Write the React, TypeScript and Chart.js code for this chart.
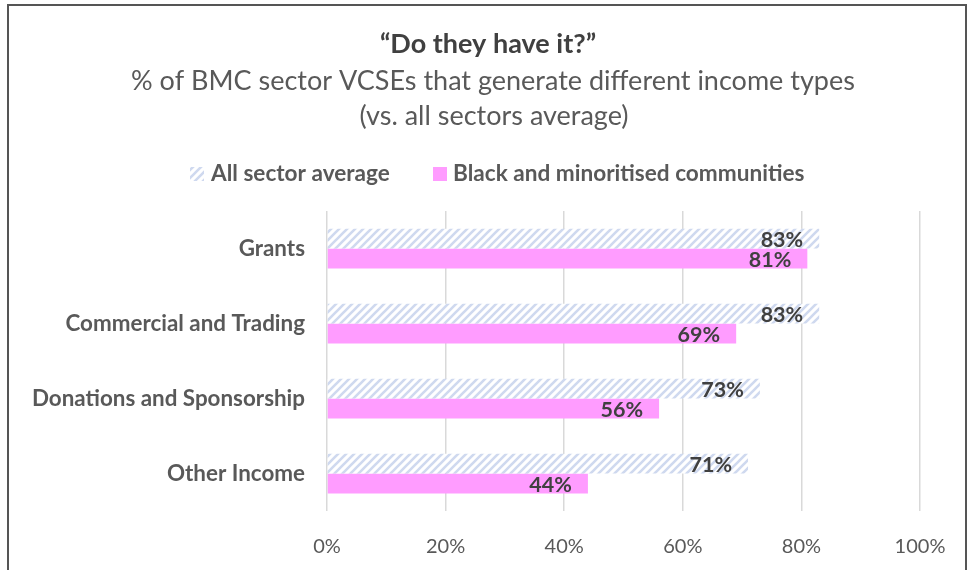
import React, { useEffect, useRef } from "react";
import { Chart, registerables } from "chart.js";
Chart.register(...registerables);

const categories = ["Grants", "Commercial and Trading", "Donations and Sponsorship", "Other Income"];
const allSectorAverage = [83, 83, 73, 71];
const bmcCommunities = [81, 69, 56, 44];
const xTicks = [0, 20, 40, 60, 80, 100];
const seriesNames = ["All sector average", "Black and minoritised communities"];
const titleText = "\u201CDo they have it?\u201D";
const subtitleLines = ["% of BMC sector VCSEs that generate different income types", "(vs. all sectors average)"];

const FONT = "Lato, 'Open Sans', sans-serif";
const PINK = "#ff9cff";
const STRIPE = "#cfd9ef";

function makeHatch(): CanvasPattern | string {
  const s = 8;
  const c = document.createElement("canvas");
  c.width = s;
  c.height = s;
  const ctx = c.getContext("2d");
  if (!ctx) return STRIPE;
  ctx.fillStyle = "#ffffff";
  ctx.fillRect(0, 0, s, s);
  ctx.strokeStyle = STRIPE;
  ctx.lineWidth = 2.6;
  ctx.beginPath();
  ctx.moveTo(0, s);
  ctx.lineTo(s, 0);
  ctx.moveTo(-s / 2, s / 2);
  ctx.lineTo(s / 2, -s / 2);
  ctx.moveTo(s / 2, s * 1.5);
  ctx.lineTo(s * 1.5, s / 2);
  ctx.stroke();
  const p = ctx.createPattern(c, "repeat");
  return p || STRIPE;
}

export default function App() {
  const ref = useRef<HTMLCanvasElement | null>(null);

  useEffect(() => {
    const canvas = ref.current;
    if (!canvas) return;
    const hatch = makeHatch();

    const headerPlugin = {
      id: "header",
      afterDraw(chart: any) {
        const ctx = chart.ctx as CanvasRenderingContext2D;
        ctx.save();
        ctx.textBaseline = "middle";
        ctx.textAlign = "center";
        ctx.fillStyle = "#404040";
        ctx.font = `bold 27px ${FONT}`;
        ctx.fillText(titleText, 488, 44);
        ctx.fillStyle = "#595959";
        ctx.font = `27px ${FONT}`;
        ctx.fillText(subtitleLines[0], 493, 81);
        ctx.fillText(subtitleLines[1], 494, 116);
        // legend
        ctx.textAlign = "left";
        ctx.font = `bold 22.6px ${FONT}`;
        ctx.fillStyle = hatch as any;
        ctx.fillRect(190, 167, 14, 14);
        ctx.fillStyle = "#595959";
        ctx.fillText(seriesNames[0], 211, 174);
        ctx.fillStyle = PINK;
        ctx.fillRect(433, 167, 14, 14);
        ctx.fillStyle = "#595959";
        ctx.fillText(seriesNames[1], 453, 174);
        ctx.restore();
      },
    };

    const labelPlugin = {
      id: "barLabels",
      afterDatasetsDraw(chart: any) {
        const ctx = chart.ctx as CanvasRenderingContext2D;
        ctx.save();
        ctx.font = `bold 21.5px ${FONT}`;
        ctx.fillStyle = "#404040";
        ctx.textAlign = "right";
        ctx.textBaseline = "middle";
        chart.data.datasets.forEach((ds: any, i: number) => {
          const meta = chart.getDatasetMeta(i);
          meta.data.forEach((el: any, j: number) => {
            ctx.fillText(ds.data[j] + "%", el.x - 16, el.y + 1.5);
          });
        });
        ctx.restore();
      },
    };

    const chart = new Chart(canvas, {
      type: "bar",
      data: {
        labels: categories,
        datasets: [
          {
            label: seriesNames[0],
            data: allSectorAverage,
            backgroundColor: hatch as any,
            borderWidth: 0,
            barPercentage: 1,
            categoryPercentage: 0.53,
          },
          {
            label: seriesNames[1],
            data: bmcCommunities,
            backgroundColor: PINK,
            borderWidth: 0,
            barPercentage: 1,
            categoryPercentage: 0.53,
          },
        ],
      },
      options: {
        indexAxis: "y",
        responsive: false,
        animation: false,
        devicePixelRatio: 1,
        layout: { padding: { top: 211, right: 56, left: 0, bottom: 0 } },
        plugins: {
          legend: { display: false },
          title: { display: false },
          tooltip: { enabled: false },
        },
        scales: {
          x: {
            min: 0,
            max: 100,
            afterBuildTicks(scale: any) {
              scale.ticks = xTicks.map((v) => ({ value: v }));
            },
            afterFit(scale: any) {
              scale.height = 59;
            },
            grid: { color: "#d9d9d9", lineWidth: 1.5, drawTicks: false },
            border: { display: false },
            ticks: {
              padding: 24,
              color: "#595959",
              font: { family: FONT, size: 20 },
              callback: (v: any) => v + "%",
            },
          },
          y: {
            afterFit(scale: any) {
              scale.width = 327;
            },
            grid: { display: false, drawTicks: false },
            border: { display: false },
            ticks: {
              padding: 22,
              color: "#595959",
              font: { family: FONT, size: 22.4, weight: "bold" },
            },
          },
        },
      },
      plugins: [headerPlugin, labelPlugin],
    } as any);

    return () => chart.destroy();
  }, []);

  return (
    <div style={{ position: "fixed", left: 0, top: 0, width: 976, height: 570, background: "#fff", overflow: "hidden" }}>
      <canvas ref={ref} width={976} height={570} style={{ position: "absolute", left: 0, top: 0, width: 976, height: 570 }} />
      <div
        style={{
          position: "absolute",
          left: 7,
          top: 4,
          width: 960,
          height: 620,
          border: "2px solid #555",
          boxSizing: "border-box",
          pointerEvents: "none",
        }}
      />
    </div>
  );
}
